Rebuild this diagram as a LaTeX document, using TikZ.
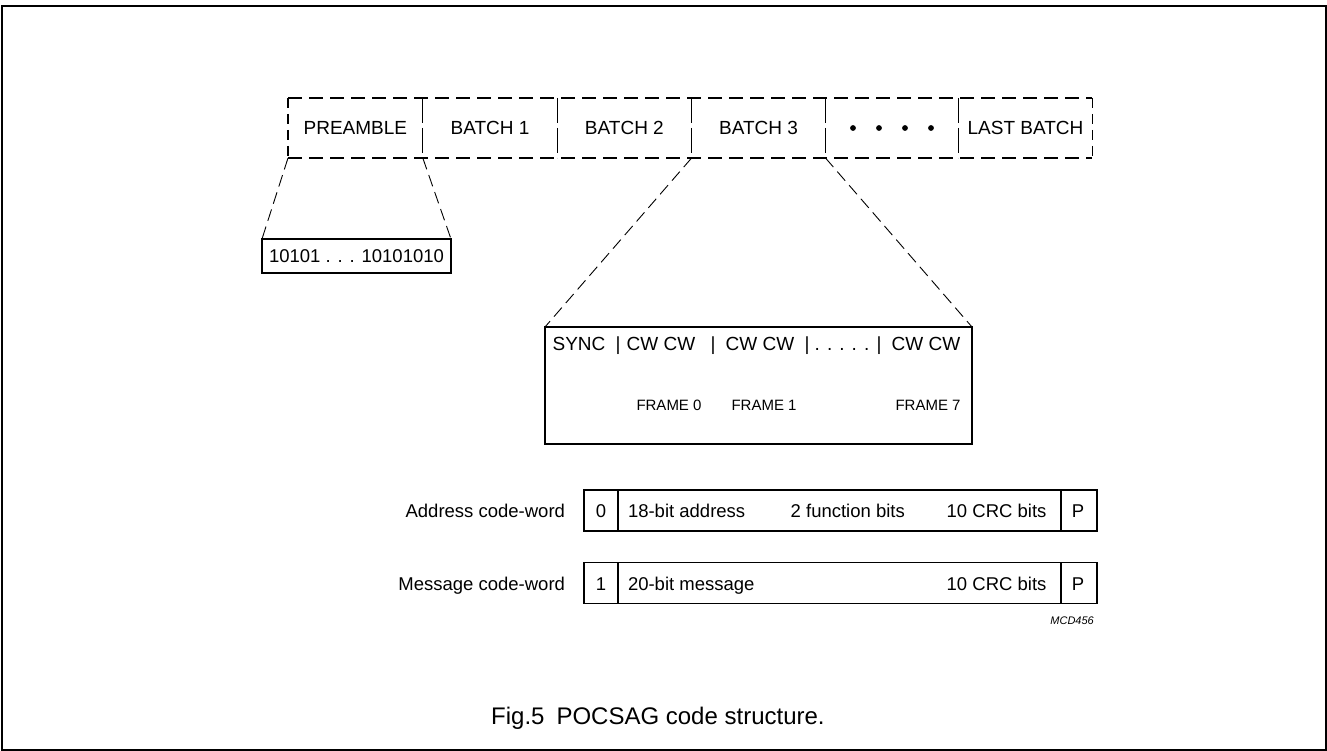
\documentclass[tikz,border=0pt]{standalone}
\usepackage{fontspec}
\setmainfont{Liberation Sans}
\begin{document}
\begin{tikzpicture}[x=1pt,y=-1pt,
  lbl/.style={inner sep=0pt,outer sep=0pt,font=\fontsize{19}{22}\selectfont},
  sml/.style={inner sep=0pt,outer sep=0pt,font=\fontsize{15}{18}\selectfont},
  cwt/.style={inner sep=0pt,outer sep=0pt,font=\fontsize{18.5}{22}\selectfont},
  solidbox/.style={draw,line width=1.4pt,inner sep=0pt,outer sep=0pt},
  dashh/.style={line width=1.1pt,dash pattern=on 14pt off 7pt},
  dashv/.style={line width=1.1pt,dash pattern=on 10pt off 6pt},
  dashdiv/.style={line width=0.9pt,dash pattern=on 25pt off 5pt},
  zoomline/.style={line width=0.9pt,dash pattern=on 12pt off 6pt}]
\useasboundingbox (0,0) rectangle (1327,751);
\draw[line width=1.5pt] (2,6) rectangle (1326,750);

% top row coordinates
\foreach \i/\x in {0/288,1/422.8,2/557.2,3/691.6,4/825.5,5/958.9,6/1092.2}{
  \coordinate (t\i) at (\x,98);
  \coordinate (b\i) at (\x,158);
}
\draw[dashh] (t0) -- (t6);
\draw[dashh] (b0) -- (b6);
\draw[dashv] (t0) -- (b0);
\draw[dashv] (t6) -- (b6);
\foreach \i in {1,...,5}{\draw[dashdiv] (t\i) -- (b\i);}

\node[lbl] (preamble) at (355.4,128) {PREAMBLE};
\node[lbl] (batch1) at (490,128) {BATCH 1};
\node[lbl] (batch2) at (624.4,128) {BATCH 2};
\node[lbl] (batch3) at (758.5,128) {BATCH 3};
\node[inner sep=0pt] (dots) at (892.2,128) {};
\foreach \x in {853,879,905,931}{\fill (\x,128) circle (2.9pt);}
\node[lbl] (last) at (1025.5,128) {LAST BATCH};

% preamble box
\node[solidbox,minimum width=189pt,minimum height=34pt,cwt] (pre) at (356.5,256) {10101 . . . 10101010};
\draw[zoomline] (b0) -- (pre.north west);
\draw[zoomline] (b1) -- (pre.north east);

% batch box
\node[solidbox,minimum width=427pt,minimum height=117pt] (sync) at (758.5,385.5) {};
\draw[zoomline] (b3) -- (sync.north west);
\draw[zoomline] (b4) -- (sync.north east);
\node[lbl,anchor=base] (s1) at (579,350) {SYNC};
\node[lbl,anchor=base] (p1) at (618,350) {|};
\node[lbl,anchor=base] (cw0) at (661,350) {CW CW};
\node[lbl,anchor=base] (p2) at (713,350) {|};
\node[lbl,anchor=base] (cw1) at (760,350) {CW CW};
\node[lbl,anchor=base] (p3) at (807,350) {|};
\node[lbl,anchor=base] (sdots) at (842,350) {. . . . .};
\node[lbl,anchor=base] (p4) at (879,350) {|};
\node[lbl,anchor=base] (cw7) at (926,350) {CW CW};
\node[sml,anchor=base] (f0) at (669,410) {FRAME 0};
\node[sml,anchor=base] (f1) at (764,410) {FRAME 1};
\node[sml,anchor=base] (f7) at (928,410) {FRAME 7};

% code words
\node[solidbox,minimum width=513pt,minimum height=41pt] (addr) at (840.5,510.5) {};
\draw[line width=1.2pt] (618,490) -- (618,531);
\draw[line width=1.2pt] (1061,490) -- (1061,531);
\node[cwt,anchor=base east] (addrl) at (565,517) {Address code-word};
\node[cwt,anchor=base] (a0) at (601,517) {0};
\node[cwt,anchor=base west] (a1) at (628,517) {18-bit address};
\node[cwt,anchor=base west] (a2) at (790.7,517) {2 function bits};
\node[cwt,anchor=base west] (a3) at (946.7,517) {10 CRC bits};
\node[cwt,anchor=base] (ap) at (1078,517) {P};

\node[solidbox,minimum width=513pt,minimum height=41pt] (msg) at (840.5,582.8) {};
\draw[line width=1.2pt] (618,562.3) -- (618,603.3);
\draw[line width=1.2pt] (1061,562.3) -- (1061,603.3);
\node[cwt,anchor=base east] (msgl) at (565,590) {Message code-word};
\node[cwt,anchor=base] (m0) at (601,590) {1};
\node[cwt,anchor=base west] (m1) at (628,590) {20-bit message};
\node[cwt,anchor=base west] (m3) at (946.7,590) {10 CRC bits};
\node[cwt,anchor=base] (mp) at (1078,590) {P};

\node[inner sep=0pt,anchor=base east,font=\fontsize{11}{13}\selectfont\itshape] (mcd) at (1094,624) {MCD456};

\node[inner sep=0pt,anchor=base west,font=\fontsize{24}{28}\selectfont] (cap) at (491,724) {Fig.5\hspace{0.5em}POCSAG code structure.};
\end{tikzpicture}
\end{document}
